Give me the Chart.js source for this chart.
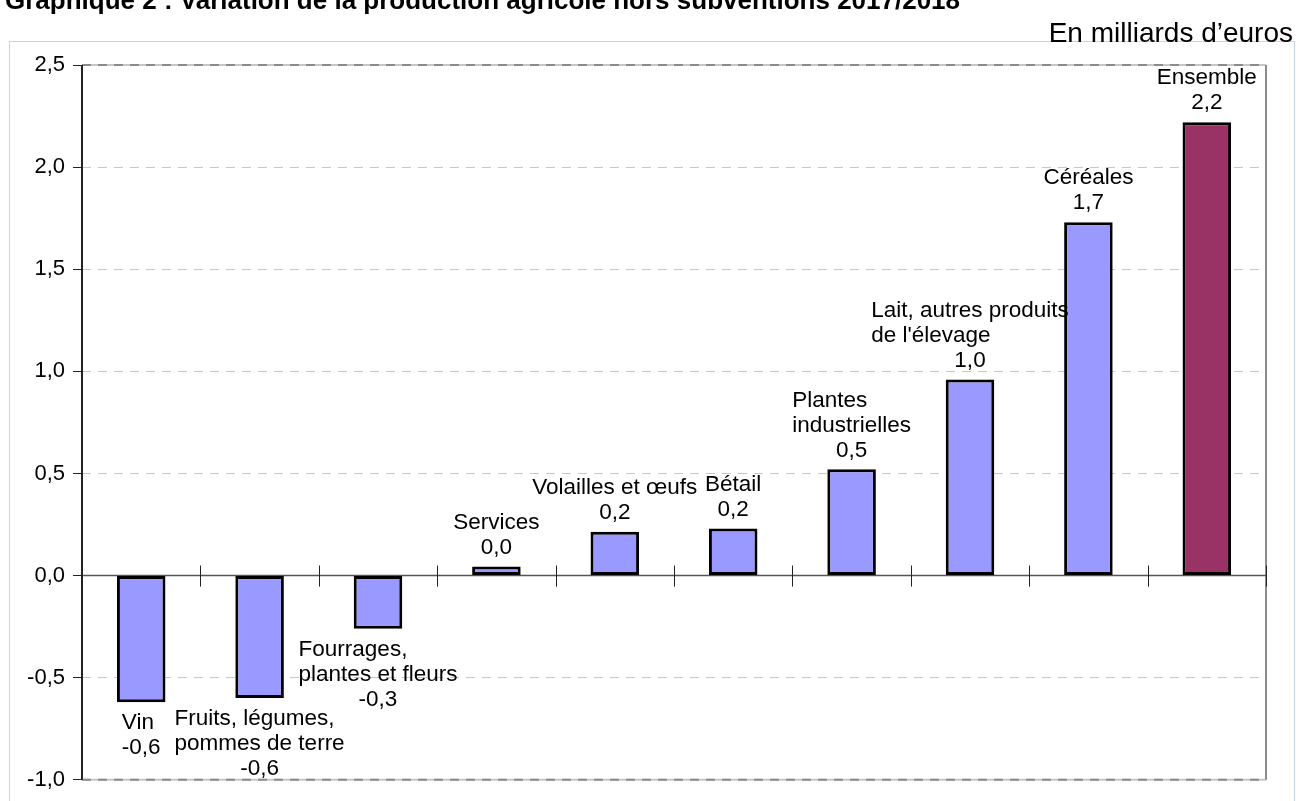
<!DOCTYPE html>
<html lang="fr">
<head>
<meta charset="utf-8">
<title>Variation de la production agricole hors subventions</title>
<script src="https://cdn.jsdelivr.net/npm/chart.js@4.4.0/dist/chart.umd.min.js"></script>
<style>
  html, body { margin: 0; padding: 0; background: #ffffff; }
  #chart { display: block; }
</style>
</head>
<body>
<canvas id="chart" width="1299" height="801"></canvas>
<script>
// Production agricole hors subventions, variation 2017/2018 (milliards d'euros)
const categories = [
    ['Vin'],
    ['Fruits, légumes,', 'pommes de terre'],
    ['Fourrages,', 'plantes et fleurs'],
    ['Services'],
    ['Volailles et œufs'],
    ['Bétail'],
    ['Plantes', 'industrielles'],
    ['Lait, autres produits', "de l'élevage"],
    ['Céréales'],
    ['Ensemble']
];
const variations = [-0.62, -0.60, -0.26, 0.045, 0.215, 0.23, 0.52, 0.96, 1.73, 2.22];
const yTicks = [-1.0, -0.5, 0.0, 0.5, 1.0, 1.5, 2.0, 2.5];

const titleText = 'Graphique 2 : Variation de la production agricole hors subventions 2017/2018';
const unitText = 'En milliards d\u2019euros';

const FONT = '"Liberation Sans", Arial, Helvetica, sans-serif';

const frenchNumber = v => v.toFixed(1).replace('.', ',');

// Page frame, title and unit line
const pageDecor = {
    id: 'pageDecor',
    beforeDraw(chart) {
        const ctx = chart.ctx;
        ctx.save();
        ctx.fillStyle = '#ffffff';
        ctx.fillRect(0, 0, chart.width, chart.height);

        ctx.strokeStyle = '#c6d6ea';
        ctx.lineWidth = 1;
        ctx.strokeRect(9.5, 41.5, 1285, 800);

        ctx.fillStyle = '#000000';
        ctx.textBaseline = 'alphabetic';
        ctx.textAlign = 'left';
        ctx.font = `bold 26px ${FONT}`;
        ctx.fillText(titleText, 5, 9);

        ctx.textAlign = 'right';
        ctx.font = `28px ${FONT}`;
        ctx.fillText(unitText, 1293, 42);
        ctx.restore();
    }
};

// Plot border, y axis line and the zero axis with its category ticks
const axisLines = {
    id: 'axisLines',
    beforeDatasetsDraw(chart) {
        const {ctx, chartArea: area, scales: {x, y}} = chart;
        const zero = y.getPixelForValue(0);
        const step = (x.right - x.left) / categories.length;
        ctx.save();

        // top and bottom edges
        [area.top, area.bottom].forEach(py => {
            ctx.strokeStyle = '#c8c8c8';
            ctx.lineWidth = 2;
            ctx.setLineDash([]);
            ctx.beginPath();
            ctx.moveTo(area.left, py);
            ctx.lineTo(area.right, py);
            ctx.stroke();
            ctx.strokeStyle = '#8c8c8c';
            ctx.setLineDash([9, 7]);
            ctx.beginPath();
            ctx.moveTo(area.left, py);
            ctx.lineTo(area.right, py);
            ctx.stroke();
        });
        ctx.setLineDash([]);

        // right edge
        ctx.strokeStyle = '#8c8c8c';
        ctx.lineWidth = 2;
        ctx.beginPath();
        ctx.moveTo(area.right, area.top);
        ctx.lineTo(area.right, area.bottom);
        ctx.stroke();

        // zero line
        ctx.strokeStyle = '#555555';
        ctx.lineWidth = 1.5;
        ctx.beginPath();
        ctx.moveTo(area.left, zero);
        ctx.lineTo(area.right, zero);
        ctx.stroke();

        // ticks between categories, crossing the zero line
        ctx.strokeStyle = '#222222';
        ctx.lineWidth = 1;
        for (let i = 1; i <= categories.length; i++) {
            const px = Math.round(x.left + i * step) + 0.5;
            ctx.beginPath();
            ctx.moveTo(px, zero - 10);
            ctx.lineTo(px, zero + 11);
            ctx.stroke();
        }

        // y axis line
        ctx.strokeStyle = '#222222';
        ctx.lineWidth = 2;
        ctx.beginPath();
        ctx.moveTo(area.left, area.top);
        ctx.lineTo(area.left, area.bottom);
        ctx.stroke();
        ctx.restore();
    }
};

// Category name and value written next to each bar
const barLabels = {
    id: 'barLabels',
    afterDatasetsDraw(chart) {
        const ctx = chart.ctx;
        const meta = chart.getDatasetMeta(0);
        const lineHeight = 25;
        ctx.save();
        ctx.font = `22.5px ${FONT}`;
        ctx.fillStyle = '#000000';
        ctx.textBaseline = 'middle';

        meta.data.forEach((bar, i) => {
            const value = variations[i];
            const lines = categories[i].concat([frenchNumber(value)]);
            const width = Math.max(...lines.map(l => ctx.measureText(l).width));
            const left = bar.x - width / 2;
            const n = lines.length;
            let firstY;
            if (value >= 0) {
                firstY = bar.y - 19 - (n - 1) * lineHeight;
            } else {
                firstY = bar.y + 21;
            }
            lines.forEach((line, k) => {
                const ly = firstY + k * lineHeight;
                if (k === n - 1) {
                    ctx.textAlign = 'center';
                    ctx.fillText(line, bar.x, ly);
                } else {
                    ctx.textAlign = 'left';
                    ctx.fillText(line, left, ly);
                }
            });
        });
        ctx.restore();
    }
};

const ctx = document.getElementById('chart').getContext('2d');

new Chart(ctx, {
    type: 'bar',
    data: {
        labels: categories.map(c => c.join(' ')),
        datasets: [{
            data: variations,
            backgroundColor: categories.map(c => c[0] === 'Ensemble' ? '#993366' : '#9999ff'),
            borderColor: '#000000',
            borderWidth: 3,
            borderSkipped: false,
            categoryPercentage: 1.0,
            barPercentage: 0.41
        }]
    },
    options: {
        responsive: false,
        animation: false,
        devicePixelRatio: 1,
        layout: {
            padding: { top: 65, right: 33, bottom: 18, left: 0 }
        },
        plugins: {
            legend: { display: false },
            title: { display: false },
            tooltip: { enabled: false }
        },
        scales: {
            x: {
                type: 'category',
                display: false,
                offset: true
            },
            y: {
                min: yTicks[0],
                max: yTicks[yTicks.length - 1],
                afterBuildTicks: scale => {
                    scale.ticks = yTicks.map(v => ({ value: v }));
                },
                afterFit: scale => {
                    scale.width = 82;
                },
                ticks: {
                    callback: v => frenchNumber(v),
                    color: '#000000',
                    padding: 8,
                    font: { family: FONT, size: 22 }
                },
                grid: {
                    color: '#c8c8c8',
                    lineWidth: 1,
                    borderDash: [9, 7],
                    tickColor: '#222222',
                    tickLength: 9,
                    tickWidth: 1,
                    tickBorderDash: [1, 0]
                },
                border: {
                    display: false,
                    dash: [9, 7]
                }
            }
        }
    },
    plugins: [pageDecor, axisLines, barLabels]
});
</script>
</body>
</html>
